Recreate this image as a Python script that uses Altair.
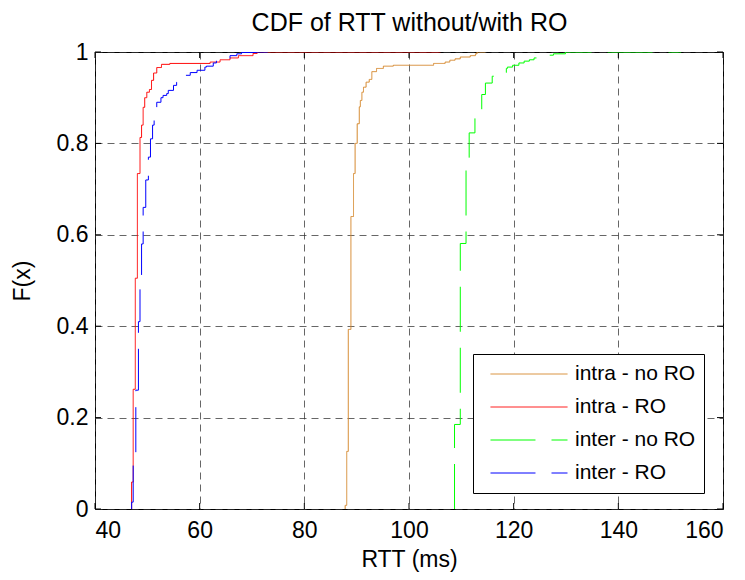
import altair as alt
import pandas as pd

FONT = "Liberation Sans"

chart_title = "CDF of RTT without/with RO"
series_names = ["intra - no RO", "intra - RO", "inter - no RO", "inter - RO"]
series_colors = ["#D4862A", "#FF0000", "#00FF00", "#0000FF"]
series_dashes = [[1, 0], [1, 0], [45, 16], [45, 16]]

# CDF jump positions (RTT, ms) and CDF level after each jump
intra_noro_x = [87.8, 88.1, 88.4, 88.9, 89.4, 89.7, 90.1, 90.5, 90.7, 91.0, 91.3, 91.8,
                92.4, 92.9, 93.8, 95.1, 97.0, 104.7, 106.9, 107.8, 108.8, 109.8, 111.7,
                112.7, 113.0]
intra_noro_f = [0.008, 0.126, 0.393, 0.640, 0.734, 0.800, 0.843, 0.880, 0.894, 0.912, 0.923,
                0.934, 0.940, 0.957, 0.964, 0.969, 0.971, 0.975, 0.978, 0.982, 0.985, 0.989,
                0.992, 0.996, 1.0]
intra_noro_end = 114.6

intra_ro_x = [47.0, 47.3, 47.7, 48.1, 48.6, 48.9, 49.2, 49.5, 49.9, 50.4, 50.8, 51.2, 51.8,
              52.7, 54.3, 62.0, 63.9, 65.8, 67.4, 70.2, 71.0]
intra_ro_f = [0.059, 0.262, 0.505, 0.734, 0.813, 0.840, 0.879, 0.900, 0.912, 0.918, 0.938,
              0.954, 0.966, 0.973, 0.975, 0.978, 0.983, 0.987, 0.992, 0.997, 1.0]
intra_ro_end = 106.0

inter_noro_x = [108.7, 109.8, 110.9, 111.5, 112.6, 113.9, 114.6, 115.9, 116.9, 118.6, 118.8,
                119.8, 121.0, 122.0, 123.0, 123.9, 124.9, 127.6, 129.9]
inter_noro_f = [0.185, 0.581, 0.767, 0.823, 0.870, 0.907, 0.932, 0.947, 0.955, 0.964, 0.967,
                0.971, 0.976, 0.980, 0.983, 0.987, 0.993, 0.996, 1.0]
inter_noro_end = 152.0

inter_ro_x = [47.0, 47.3, 47.8, 48.3, 48.6, 48.9, 49.2, 49.7, 50.2, 50.6, 51.0, 51.3, 51.8,
              52.6, 53.0, 53.7, 54.0, 55.0, 55.6, 56.3, 57.2, 58.2, 59.5, 61.0, 61.3, 62.6,
              63.2, 65.8, 67.1, 68.0, 70.9]
inter_ro_f = [0.015, 0.110, 0.260, 0.410, 0.510, 0.580, 0.660, 0.720, 0.770, 0.810, 0.840,
              0.865, 0.890, 0.900, 0.905, 0.909, 0.916, 0.927, 0.934, 0.943, 0.949, 0.955,
              0.960, 0.967, 0.969, 0.976, 0.985, 0.992, 0.996, 0.999, 1.0]
inter_ro_end = 73.0

x_ticks = [40, 60, 80, 100, 120, 140, 160]
y_ticks = [0, 0.2, 0.4, 0.6, 0.8, 1]

W, H = 628, 457

rows = []
for name, xs, fs, end in [
    (series_names[0], intra_noro_x, intra_noro_f, intra_noro_end),
    (series_names[1], intra_ro_x, intra_ro_f, intra_ro_end),
    (series_names[2], inter_noro_x, inter_noro_f, inter_noro_end),
    (series_names[3], inter_ro_x, inter_ro_f, inter_ro_end),
]:
    pts = [(xs[0], 0.0)] + list(zip(xs, fs)) + [(end, 1.0)]
    for i, (x, f) in enumerate(pts):
        rows.append({"series": name, "x": x, "F": f, "i": i})
df = pd.DataFrame(rows)

xscale = alt.Scale(domain=[40, 160], nice=False)
yscale = alt.Scale(domain=[0, 1], nice=False)

legend = alt.Legend(
    title=None, orient="none", legendX=378, legendY=302,
    symbolType="stroke", symbolSize=5929, symbolStrokeWidth=1,
    clipHeight=24, rowPadding=9, padding=8, symbolOffset=9, labelOffset=7,
    labelFont=FONT, labelFontSize=21, labelColor="black", labelLimit=400,
    strokeColor="black", fillColor="white", cornerRadius=0,
)

lines = alt.Chart(df).mark_line(interpolate="step-after", strokeWidth=1, clip=True).encode(
    x=alt.X("x:Q", scale=xscale, axis=alt.Axis(
        values=x_ticks, title="RTT (ms)", titleY=57, titleBaseline="alphabetic",
        labelPadding=10, grid=True)),
    y=alt.Y("F:Q", scale=yscale, axis=alt.Axis(
        values=y_ticks, title="F(x)", format="~g", titleX=-66, titleY=H / 2,
        titleAngle=270, titleBaseline="alphabetic", labelPadding=7, grid=True)),
    color=alt.Color("series:N", scale=alt.Scale(domain=series_names, range=series_colors),
                    legend=legend),
    strokeDash=alt.StrokeDash("series:N", scale=alt.Scale(domain=series_names, range=series_dashes),
                              legend=legend),
    order=alt.Order("i:Q"),
)

xt = pd.DataFrame({"t": x_ticks})
yt = pd.DataFrame({"t": y_ticks})
tick_len = 6
xb = alt.Chart(xt).mark_rule(color="black", strokeWidth=1).encode(
    x=alt.X("t:Q", scale=xscale, axis=None), y=alt.value(H), y2=alt.value(H - tick_len))
# top tick marks; their (top) axis carries the chart title
xtop = alt.Chart(xt).mark_rule(color="black", strokeWidth=1).encode(
    x=alt.X("t:Q", scale=xscale, axis=alt.Axis(
        orient="top", title=chart_title, labels=False, grid=False, ticks=False,
        domain=False, titleFontSize=25, titleY=-22, titleBaseline="alphabetic")),
    y=alt.value(0), y2=alt.value(tick_len))
yl = alt.Chart(yt).mark_rule(color="black", strokeWidth=1).encode(
    y=alt.Y("t:Q", scale=yscale), x=alt.value(0), x2=alt.value(tick_len))
yr = alt.Chart(yt).mark_rule(color="black", strokeWidth=1).encode(
    y=alt.Y("t:Q", scale=yscale), x=alt.value(W), x2=alt.value(W - tick_len))

chart = alt.layer(xb, xtop, yl, yr, lines).resolve_axis(x="independent").properties(
    width=W, height=H,
    background="white",
    autosize=alt.AutoSizeParams(type="none"),
    padding={"left": 87, "top": 44, "right": 14, "bottom": 63},
).configure_view(
    stroke="black", strokeWidth=1
).configure_axis(
    domain=False, ticks=False, tickSize=0,
    gridColor="#333333", gridOpacity=0.75, gridDash=[7, 5], gridWidth=1,
    labelFont=FONT, labelFontSize=23, labelColor="black",
    titleFont=FONT, titleFontSize=23, titleColor="black", titleFontWeight="normal",
)

chart.save("out.html", embed_options={"renderer": "svg", "actions": False})
